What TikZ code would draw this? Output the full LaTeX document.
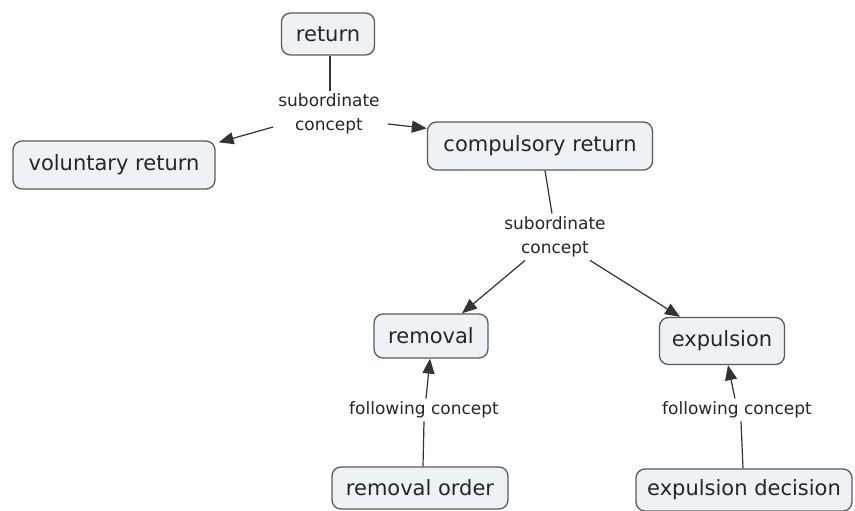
\documentclass[tikz,border=0pt]{standalone}
\usepackage{fontspec}
\setmainfont{DejaVu Sans}
\usetikzlibrary{arrows.meta}
\definecolor{nodefill}{HTML}{EDF2F6}
\definecolor{nodeline}{HTML}{5A5A5A}
\definecolor{linkcol}{HTML}{333333}
\tikzset{
  concept/.style={draw=nodeline, fill=nodefill, line width=1.3pt, rounded corners=9pt,
    font=\fontsize{21}{24}\selectfont, text=black!85, inner sep=0pt, align=center},
  linklabel/.style={font=\fontsize{17}{24}\selectfont, text=black!85, align=center, inner sep=3pt},
  conn/.style={draw=linkcol, line width=1.2pt},
  arr/.style={conn, -{Triangle[length=15pt,width=12pt]}}
}
\begin{document}
\begin{tikzpicture}[x=1pt,y=-1pt]
\useasboundingbox (0,0) rectangle (855,511);
\node[concept, minimum width=93pt, minimum height=42pt] (ret) at (328,34) {return};
\node[concept, minimum width=202pt, minimum height=48pt] (vol) at (114,165) {voluntary return};
\node[concept, minimum width=225pt, minimum height=48pt] (comp) at (540,146) {compulsory return};
\node[concept, minimum width=114pt, minimum height=44pt] (rem) at (431,336) {removal};
\node[concept, minimum width=125pt, minimum height=47pt] (exp) at (722,341) {expulsion};
\node[concept, minimum width=176pt, minimum height=42pt] (remo) at (420,488) {removal order};
\node[concept, minimum width=216pt, minimum height=42pt] (expd) at (744,490) {expulsion decision};

\node[linklabel] (l1) at (329,114) {subordinate\\concept};
\node[linklabel] (l2) at (555,237) {subordinate\\concept};
\node[linklabel] (l3) at (424,410) {following concept};
\node[linklabel] (l4) at (737,410) {following concept};

\draw[conn] ([xshift=2pt]ret.south) -- ([xshift=1pt]l1.north);
\draw[arr] ([xshift=-2pt,yshift=-13pt]l1.west) -- ([xshift=3pt,yshift=-2pt]vol.north east);
\draw[arr] ([xshift=5pt,yshift=-10pt]l1.east) -- ([yshift=-7pt]comp.north west);
\draw[conn] ([xshift=5pt]comp.south) -- ([xshift=-3pt]l2.north);
\draw[arr] ([xshift=-30pt]l2.south) -- ([xshift=31pt]rem.north);
\draw[arr] ([xshift=35pt]l2.south) -- ([xshift=-42pt]exp.north);
\draw[conn] ([xshift=3pt]remo.north) -- (l3.south);
\draw[arr] ([xshift=2pt]l3.north) -- ([xshift=-1pt]rem.south);
\draw[conn] ([xshift=-1pt]expd.north) -- ([xshift=4pt]l4.south);
\draw[arr] ([xshift=-2pt]l4.north) -- ([xshift=6pt]exp.south);
\end{tikzpicture}
\end{document}
